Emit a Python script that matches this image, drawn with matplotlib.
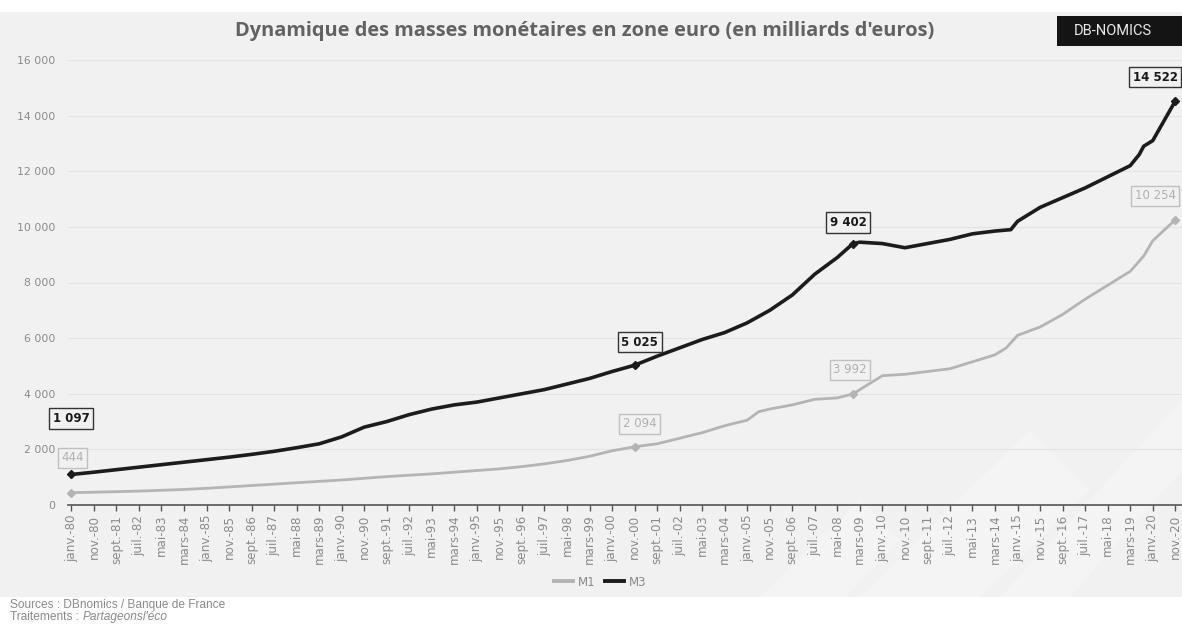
import matplotlib
matplotlib.use("Agg")
import matplotlib.pyplot as plt
from matplotlib.patches import Rectangle, Polygon
from matplotlib.lines import Line2D

# ---------------- data ----------------
m3_dates = ["1980-01", "1980-11", "1981-09", "1982-07", "1983-05", "1984-03", "1985-01",
            "1985-11", "1986-09", "1987-07", "1988-05", "1989-03", "1990-01", "1990-11",
            "1991-09", "1992-07", "1993-05", "1994-03", "1995-01", "1995-11", "1996-09",
            "1997-07", "1998-05", "1999-03", "2000-01", "2000-11", "2001-09", "2002-07",
            "2003-05", "2004-03", "2005-01", "2005-11", "2006-09", "2007-07", "2008-05",
            "2008-12", "2009-03", "2010-01", "2010-11", "2011-09", "2012-07", "2013-05",
            "2014-03", "2014-10", "2015-01", "2015-11", "2016-09", "2017-07", "2018-05",
            "2019-03", "2019-07", "2019-09", "2020-01", "2020-11"]
m3_values = [1097, 1180, 1270, 1360, 1450, 1540, 1630,
             1720, 1820, 1930, 2060, 2200, 2450, 2800,
             3000, 3250, 3450, 3600, 3700, 3850, 4000,
             4150, 4350, 4550, 4800, 5025, 5350, 5650,
             5950, 6200, 6550, 7000, 7550, 8300, 8900,
             9402, 9450, 9400, 9250, 9400, 9550, 9750,
             9850, 9900, 10200, 10700, 11050, 11400, 11800,
             12200, 12600, 12900, 13100, 14522]

m1_dates = ["1980-01", "1980-11", "1981-09", "1982-07", "1983-05", "1984-03", "1985-01",
            "1985-11", "1986-09", "1987-07", "1988-05", "1989-03", "1990-01", "1990-11",
            "1991-09", "1992-07", "1993-05", "1994-03", "1995-01", "1995-11", "1996-09",
            "1997-07", "1998-05", "1999-03", "2000-01", "2000-11", "2001-09", "2002-07",
            "2003-05", "2004-03", "2005-01", "2005-06", "2005-11", "2006-09", "2007-07",
            "2008-05", "2008-12", "2009-03", "2010-01", "2010-11", "2011-09", "2012-07",
            "2013-05", "2014-03", "2014-08", "2015-01", "2015-11", "2016-09", "2017-07",
            "2018-05", "2019-03", "2019-09", "2020-01", "2020-11"]
m1_values = [444, 460, 480, 500, 530, 560, 600,
             650, 700, 750, 800, 850, 900, 960,
             1020, 1070, 1120, 1180, 1240, 1300, 1380,
             1480, 1600, 1750, 1950, 2094, 2200, 2400,
             2600, 2850, 3050, 3350, 3450, 3600, 3800,
             3850, 3992, 4150, 4650, 4700, 4800, 4900,
             5150, 5400, 5650, 6100, 6400, 6850, 7400,
             7900, 8400, 8950, 9500, 10254]

# annotated points
m3_annot_dates = ["1980-01", "2000-11", "2008-12", "2020-11"]
m3_annot_labels = ["1 097", "5 025", "9 402", "14 522"]
m1_annot_dates = ["1980-01", "2000-11", "2008-12", "2020-11"]
m1_annot_labels = ["444", "2 094", "3 992", "10 254"]

tick_labels = ["janv.-80", "nov.-80", "sept.-81", "juil.-82", "mai-83", "mars-84",
               "janv.-85", "nov.-85", "sept.-86", "juil.-87", "mai-88", "mars-89",
               "janv.-90", "nov.-90", "sept.-91", "juil.-92", "mai-93", "mars-94",
               "janv.-95", "nov.-95", "sept.-96", "juil.-97", "mai-98", "mars-99",
               "janv.-00", "nov.-00", "sept.-01", "juil.-02", "mai-03", "mars-04",
               "janv.-05", "nov.-05", "sept.-06", "juil.-07", "mai-08", "mars-09",
               "janv.-10", "nov.-10", "sept.-11", "juil.-12", "mai-13", "mars-14",
               "janv.-15", "nov.-15", "sept.-16", "juil.-17", "mai-18", "mars-19",
               "janv.-20", "nov.-20"]
tick_step_months = 10

y_ticks = [0, 2000, 4000, 6000, 8000, 10000, 12000, 14000, 16000]


def month_index(s):
    y, m = s.split("-")
    return (int(y) - 1980) * 12 + int(m) - 1


m3_x = [month_index(d) for d in m3_dates]
m1_x = [month_index(d) for d in m1_dates]

# ---------------- figure ----------------
BG = "#f1f1f1"
W, H = 1182, 628
fig = plt.figure(figsize=(W / 100, H / 100), dpi=100)
fig.patch.set_facecolor("white")
fig.add_artist(Rectangle((0, 31 / H), 1, (H - 12 - 31) / H, transform=fig.transFigure,
                         facecolor=BG, edgecolor="none", zorder=-10))

# faint watermark shapes
wm = dict(transform=fig.transFigure, facecolor="white", edgecolor="none", alpha=0.22, zorder=-9)
def P(pts):
    return [(x / W, 1 - y / H) for x, y in pts]
fig.add_artist(Polygon(P([(860, 597), (1030, 430), (1090, 490), (980, 597)]), **wm))
fig.add_artist(Polygon(P([(1000, 597), (1182, 400), (1182, 470), (1070, 597)]), **wm))
fig.add_artist(Polygon(P([(760, 597), (860, 500), (900, 540), (845, 597)]), **wm))

ax = fig.add_axes([68 / W, (H - 505) / H, (1182 - 68) / W, 445 / H])
ax.set_facecolor("none")

ax.plot(m1_x, m1_values, color="#b4b4b4", lw=2.0, solid_joinstyle="round", zorder=3)
ax.plot(m3_x, m3_values, color="#1c1c1c", lw=2.6, solid_joinstyle="round", zorder=4)

ax.set_xlim(-1.5, 493)
ax.set_ylim(0, 16000)

ax.set_yticks(y_ticks)
ax.set_yticklabels([f"{v:,}".replace(",", " ") for v in y_ticks])
ax.grid(axis="y", color="#e4e4e4", lw=0.9, zorder=0)
ax.tick_params(axis="y", length=0, pad=9, labelsize=7.8, labelcolor="#8a8a8a")

xt = [i * tick_step_months for i in range(len(tick_labels))]
ax.set_xticks(xt)
ax.set_xticklabels(tick_labels, rotation=90, fontsize=8.6, color="#8a8a8a")
ax.tick_params(axis="x", length=4, width=1, color="#555555", pad=3)

for s in ["top", "right", "left"]:
    ax.spines[s].set_visible(False)
ax.spines["bottom"].set_color("#555555")
ax.spines["bottom"].set_linewidth(1.2)

# annotations
m3_lookup = dict(zip(m3_dates, m3_values))
m1_lookup = dict(zip(m1_dates, m1_values))
m3_offsets = [(0, 56), (5, 23), (-5, 21), (-20, 24)]
m1_offsets = [(1, 35), (5, 23), (-3, 24), (-20, 24)]

for d, lab, off in zip(m3_annot_dates, m3_annot_labels, m3_offsets):
    x, y = month_index(d), m3_lookup[d]
    ax.plot([x], [y], marker="D", ms=4, color="#1c1c1c", zorder=5, clip_on=False)
    ax.annotate(lab, (x, y), xytext=off, textcoords="offset pixels", ha="center", va="center",
                fontsize=8.5, fontweight="bold", color="#1a1a1a", annotation_clip=False,
                bbox=dict(boxstyle="square,pad=0.3", fc=BG, ec="#333333", lw=1.0), zorder=6)
for d, lab, off in zip(m1_annot_dates, m1_annot_labels, m1_offsets):
    x, y = month_index(d), m1_lookup[d]
    ax.plot([x], [y], marker="D", ms=4, color="#b4b4b4", zorder=5, clip_on=False)
    ax.annotate(lab, (x, y), xytext=off, textcoords="offset pixels", ha="center", va="center",
                fontsize=8.5, color="#b0b0b0", annotation_clip=False,
                bbox=dict(boxstyle="square,pad=0.3", fc=BG, ec="#c0c0c0", lw=1.0), zorder=6)

# title
fig.text(585 / W, 1 - 31 / H, "Dynamique des masses monétaires en zone euro (en milliards d'euros)",
         ha="center", va="center", fontsize=14.4, fontweight="bold", color="#626262",
         family=["Open Sans", "DejaVu Sans"])

# DB-NOMICS badge
fig.add_artist(Rectangle((1057 / W, 1 - 46 / H), (1182 - 1057) / W, 30 / H,
                         transform=fig.transFigure, facecolor="#141414", edgecolor="none", zorder=5))
fig.text(1113 / W, 1 - 31 / H, "DB-NOMICS", ha="center", va="center", fontsize=10.5,
         color="#e8e8e8", family=["Roboto", "DejaVu Sans"], zorder=6)

# legend
handles = [Line2D([0], [0], color="#b4b4b4", lw=2.8), Line2D([0], [0], color="#1c1c1c", lw=2.8)]
leg = fig.legend(handles, ["M1", "M3"], loc="center", bbox_to_anchor=(600 / W, 1 - 582 / H),
                 ncol=2, frameon=False, fontsize=8.5, handlelength=1.6, columnspacing=0.8,
                 handletextpad=0.4)
for t in leg.get_texts():
    t.set_color("#8a8a8a")

# sources
src_font = ["Liberation Sans", "DejaVu Sans"]
fig.text(10 / W, 1 - 605 / H, "Sources : DBnomics / Banque de France", fontsize=8.6,
         color="#8a8a8a", va="center", family=src_font)
t1 = fig.text(10 / W, 1 - 617 / H, "Traitements :", fontsize=8.6, color="#8a8a8a", va="center",
              family=src_font)
renderer = fig.canvas.get_renderer()
bb = t1.get_window_extent(renderer=renderer)
fig.text((bb.x1 + 4) / W, 1 - 617 / H, "Partageonsl'éco", fontsize=8.6, color="#8a8a8a",
         va="center", style="italic", family=src_font)

fig.savefig("out.png", dpi=100, facecolor=fig.get_facecolor())
